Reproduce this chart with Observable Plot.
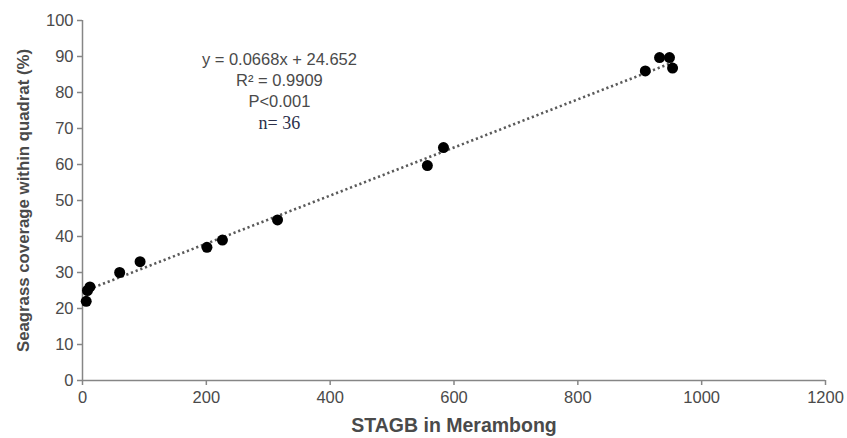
<!DOCTYPE html>
<html>
<head>
<meta charset="utf-8">
<script src="https://cdn.jsdelivr.net/npm/d3@7"></script>
<script src="https://cdn.jsdelivr.net/npm/@observablehq/plot@0.6"></script>
<style>
  html, body { margin: 0; padding: 0; background: #fff; }
  #chart { width: 847px; height: 438px; }
</style>
</head>
<body>
<div id="chart"></div>
<script>
const stagb = [6, 8, 12, 60, 93, 201, 226, 315, 557, 583, 909, 932, 948, 953];
const coverage = [22, 25, 26, 30, 33, 37, 39, 44.6, 59.7, 64.7, 86, 89.7, 89.7, 86.8];

// Trend line as stated on the chart
const slope = 0.0668;
const intercept = 24.652;
const trendX = [3, 953];

const xTicks = [0, 200, 400, 600, 800, 1000, 1200];
const yTicks = [0, 10, 20, 30, 40, 50, 60, 70, 80, 90, 100];

const statLines = ["y = 0.0668x + 24.652", "R² = 0.9909", "P<0.001"];
const nLabel = "n= 36";

const points = stagb.map((x, i) => ({x, y: coverage[i]}));
const trend = trendX.map(x => ({x, y: slope * x + intercept}));

const axisColor = "#868686";
const textColor = "#4a4a4a";

const plot = Plot.plot({
  width: 847,
  height: 438,
  marginLeft: 82,
  marginRight: 22,
  marginTop: 20,
  marginBottom: 58,
  style: {fontFamily: "'Liberation Sans', Arial, sans-serif", fontSize: "16px", background: "#fff", color: textColor},
  x: {domain: [0, 1200]},
  y: {domain: [0, 100]},
  marks: [
    Plot.ruleX([0], {stroke: axisColor, strokeWidth: 1.5}),
    Plot.ruleY([0], {stroke: axisColor, strokeWidth: 1.5}),
    Plot.axisX(xTicks, {ticks: xTicks, tickFormat: d3.format("d"), tickSize: 5, tickPadding: 6, stroke: axisColor, fill: textColor, fontSize: 16.5, label: null, strokeWidth: 1.5}),
    Plot.axisY(yTicks, {ticks: yTicks, tickFormat: d3.format("d"), tickSize: 5, tickPadding: 4, stroke: axisColor, fill: textColor, fontSize: 16.5, label: null, strokeWidth: 1.5}),
    Plot.line(trend, {x: "x", y: "y", stroke: "#5a5a5a", strokeWidth: 2.6, strokeDasharray: "2.2,2.8", strokeLinecap: "butt"}),
    Plot.dot(points, {x: "x", y: "y", r: 5.5, fill: "#000", stroke: "none"}),
    Plot.text(statLines, {x: () => 318, y: (d, i) => 89.2 - i * 5.83, text: d => d, textAnchor: "middle", lineAnchor: "middle", fill: textColor, fontSize: 16.5}),
    Plot.text([nLabel], {x: () => 318, y: () => 71.6, text: d => d, textAnchor: "middle", lineAnchor: "middle", fill: "#2b2f4a", fontSize: 18, fontFamily: "'Liberation Serif', 'Times New Roman', serif"}),
    Plot.text(["STAGB in Merambong"], {frameAnchor: "bottom", dy: 45, text: d => d, fontWeight: "bold", fontSize: 19.5, fill: textColor, lineAnchor: "middle"}),
    Plot.text(["Seagrass coverage within quadrat (%)"], {frameAnchor: "left", dx: -59, rotate: -90, textAnchor: "middle", lineAnchor: "middle", text: d => d, fontWeight: "bold", fontSize: 16.8, fill: textColor})
  ]
});
document.getElementById("chart").appendChild(plot);
</script>
</body>
</html>
